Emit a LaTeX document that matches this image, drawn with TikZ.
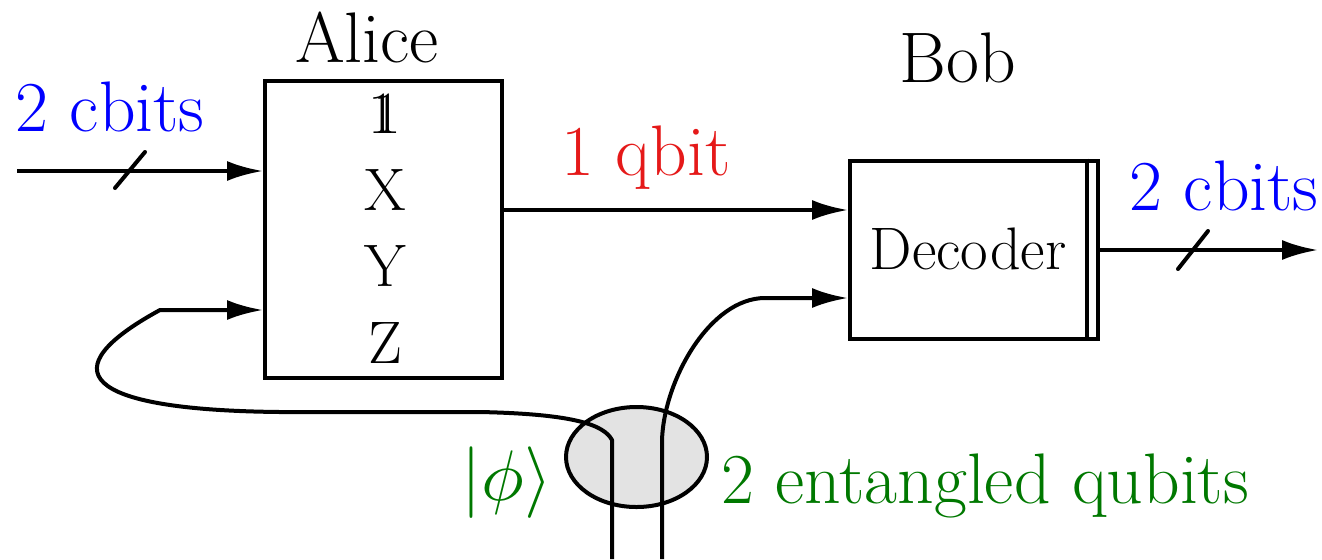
\documentclass[tikz,border=0pt]{standalone}
\usepackage{graphicx}
\usetikzlibrary{arrows.meta,calc,shapes.geometric}
\definecolor{myblue}{rgb}{0,0,1}
\definecolor{myred}{rgb}{0.9,0.1,0.1}
\definecolor{mygreen}{rgb}{0,0.47,0}
\newcommand{\dsone}{\makebox[0pt][l]{1}\kern0.09em 1}
\begin{document}
\begin{tikzpicture}[x=0.5pt,y=-0.5pt,
  wire/.style={line width=2pt, line join=round},
  arr/.style={wire,-{Latex[length=18pt,width=10pt]}},
  slash/.style={line width=2pt, line cap=round},
  blockbox/.style={draw, line width=2pt, inner sep=0pt},
  lbl/.style={font=\fontsize{35.8}{42}\selectfont, anchor=base},
  inlbl/.style={font=\fontsize{30}{36}\selectfont, anchor=base},
]
\useasboundingbox (0,0) rectangle (1322,559);

% ellipse of entangled pair
\node[draw, line width=2pt, fill=black!11, ellipse, minimum width=70.5pt, minimum height=50pt, inner sep=0pt] (pair) at (636.5,457) {};

% Alice box
\node[blockbox, minimum width=118.5pt, minimum height=148.5pt] (alice) at (383.5,229.5) {};
\node[inlbl] (one) at (385,133) {\dsone};
\node[inlbl] (opx) at (385,210) {X};
\node[inlbl] (opy) at (385,286) {Y};
\node[inlbl] (opz) at (385,363) {Z};
\node[lbl] (alicelbl) at (367,62) {Alice};

% Bob box
\node[blockbox, minimum width=124pt, minimum height=89pt] (bob) at (974,249.5) {};
\draw[line width=2pt] ([xshift=-6.5pt]bob.north east) -- ([xshift=-6.5pt]bob.south east);
\node[inlbl] (dec) at (968,269) {Decoder};
\node[lbl] (boblbl) at (958,82) {Bob};

% input cbits
\coordinate (in1) at (17,171);
\draw[arr] (in1) -- (alice.west |- in1);
\coordinate (s1) at (130,170);
\draw[slash] ($(s1)+(-15,18)$) -- ($(s1)+(15,-18)$);
\node[lbl, text=myblue] (cin) at (110,131) {2 cbits};

% qbit channel
\coordinate (qy) at (0,210);
\draw[arr] (alice.east |- qy) -- (bob.west |- qy);
\node[lbl, text=myred] (qlbl) at (646,175) {1 qbit};

% output cbits
\coordinate (oy) at (0,250);
\coordinate (out) at (1318,250);
\draw[arr] (bob.east |- oy) -- (out);
\coordinate (s2) at (1193,250);
\draw[slash] ($(s2)+(-15,19)$) -- ($(s2)+(15,-19)$);
\node[lbl, text=myblue] (cout) at (1224,210) {2 cbits};

% entangled qubit lines
\coordinate (e1) at (612,559);
\coordinate (e2) at (662,559);
\coordinate (ay) at (0,310);
\coordinate (by) at (0,298);
\draw[arr] (e1) -- (612,440) .. controls (604,425) and (575,414) .. (480,412)
  -- (280,412) .. controls (80,410) and (50,370) .. (160,310) -- (alice.west |- ay);
\draw[arr] (e2) -- (662,440) .. controls (664,380) and (710,298) .. (765,298)
  -- (bob.west |- by);

\node[anchor=base, text=mygreen, font=\fontsize{10}{12}\selectfont] (ket) at (507,500) {\scalebox{3.58}{$|\phi\rangle$}};
\node[lbl, text=mygreen] (entlbl) at (985,503) {2 entangled qubits};
\end{tikzpicture}
\end{document}
